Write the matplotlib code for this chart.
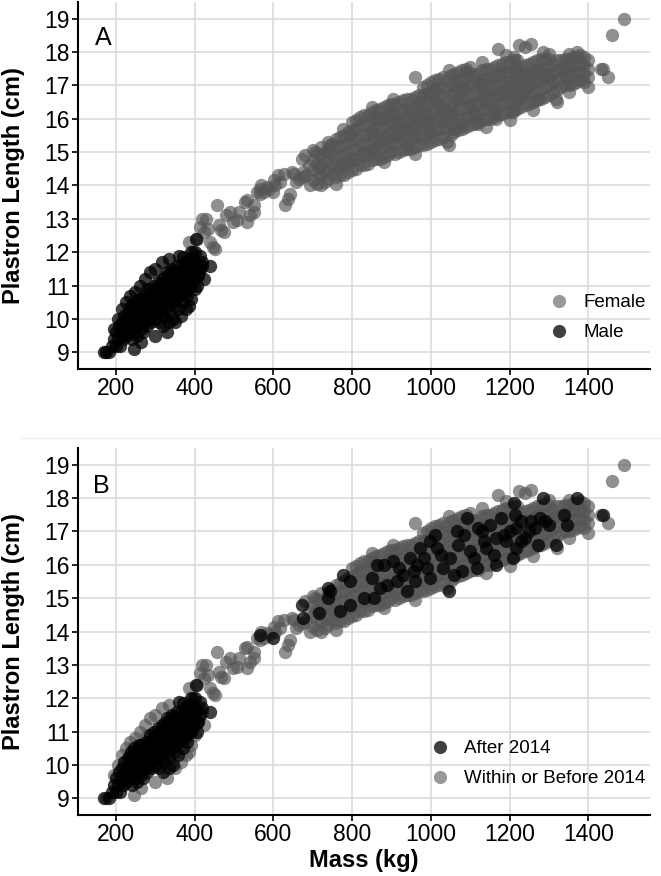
import matplotlib.pyplot as plt
from matplotlib.lines import Line2D

plt.rcParams['font.family'] = ['Liberation Sans', 'DejaVu Sans']

# ---- data: (mass kg, plastron length cm) ----
# females 380-700 kg, measured within or before 2014
female_mid = [(385, 12.3), (395, 12.0), (405, 12.4), (415, 12.75), (420, 13.0), (425, 12.6),
              (430, 13.0), (435, 12.7), (440, 12.3), (448, 12.15), (458, 13.4), (452, 12.1),
              (462, 12.8), (466, 12.65), (475, 12.6), (480, 13.1), (491, 13.2), (498, 12.9),
              (508, 12.95), (512, 13.2), (528, 13.5), (534, 12.9), (534, 13.55), (542, 13.1),
              (550, 13.2), (552, 13.4), (558, 13.8), (567, 13.75), (570, 14.0), (576, 13.8),
              (584, 13.95), (590, 13.9), (601, 14.15), (604, 14.0), (612, 14.3), (618, 14.1),
              (626, 14.35), (630, 13.4), (638, 13.6), (643, 13.75), (648, 14.4), (652, 14.35),
              (658, 14.1), (664, 14.2), (676, 14.25), (680, 14.9), (684, 14.3), (690, 14.6),
              (694, 14.0), (705, 15.0)]

# dense female band 700-1400 kg (within or before 2014), one column per mass value
band_mass = [700, 720, 740, 760, 780, 800, 820, 840, 860, 880, 900, 920, 940, 960, 980,
             1000, 1020, 1040, 1060, 1080, 1100, 1120, 1140, 1160, 1180, 1200, 1220, 1240,
             1260, 1280, 1300, 1320, 1340, 1360, 1380, 1400]
band_lengths = [
    [14.15, 14.45, 14.75, 15.05],
    [14.0, 14.3, 14.6, 14.9, 15.15],
    [14.2, 14.5, 14.8, 15.1],
    [14.25, 14.55, 14.85, 15.15, 15.4],
    [14.3, 14.6, 14.9, 15.2, 15.5],
    [14.45, 14.75, 15.05, 15.35, 15.65, 15.9],
    [14.6, 14.9, 15.2, 15.5, 15.8, 16.05],
    [14.65, 14.95, 15.25, 15.55, 15.85, 16.1],
    [14.8, 15.1, 15.4, 15.7, 16.0, 16.25],
    [14.85, 15.15, 15.45, 15.75, 16.05, 16.35],
    [15.0, 15.3, 15.6, 15.9, 16.2, 16.45],
    [15.0, 15.3, 15.6, 15.9, 16.2, 16.5],
    [15.1, 15.4, 15.7, 16.0, 16.3, 16.6],
    [15.15, 15.45, 15.75, 16.05, 16.35, 16.65, 17.25],
    [15.2, 15.5, 15.8, 16.1, 16.4, 16.7, 16.95],
    [15.3, 15.6, 15.9, 16.2, 16.5, 16.8, 17.1],
    [15.4, 15.7, 16.0, 16.3, 16.6, 16.9, 17.2],
    [15.3, 15.65, 15.95, 16.25, 16.55, 16.85, 17.15],
    [15.6, 15.9, 16.2, 16.5, 16.8, 17.1, 17.35],
    [15.7, 16.0, 16.3, 16.6, 16.9, 17.2, 17.45],
    [15.8, 16.1, 16.4, 16.7, 17.0, 17.3, 17.55],
    [15.85, 16.15, 16.45, 16.75, 17.05, 17.35],
    [16.0, 16.3, 16.6, 16.9, 17.2, 17.5],
    [16.05, 16.35, 16.65, 16.95, 17.25, 17.55],
    [16.15, 16.45, 16.75, 17.05, 17.35, 17.65],
    [16.2, 16.5, 16.8, 17.1, 17.4, 17.7],
    [16.3, 16.6, 16.9, 17.2, 17.5, 17.75],
    [16.4, 16.7, 17.0, 17.3, 17.6],
    [16.5, 16.8, 17.1, 17.4, 17.7],
    [16.6, 16.9, 17.2, 17.5, 17.8],
    [16.7, 17.0, 17.3, 17.55, 17.8],
    [16.5, 16.85, 17.15, 17.45, 17.75],
    [17.0, 17.3, 17.55, 17.8],
    [17.05, 17.35, 17.6, 17.85],
    [17.15, 17.4, 17.65, 17.9],
    [16.95, 17.25, 17.5, 17.75],
]

# in-between columns of the same band
band_mass_2 = [710, 730, 750, 770, 790, 810, 830, 850, 870, 890, 910, 930, 950, 970, 990,
               1010, 1030, 1050, 1070, 1090, 1110, 1130, 1150, 1170, 1190, 1210, 1230, 1250,
               1270, 1290, 1310, 1330, 1350, 1370, 1390]
band_lengths_2 = [
    [14.05, 14.35, 14.65, 14.95],
    [14.1, 14.4, 14.7, 15.0],
    [14.35, 14.65, 14.95, 15.25],
    [14.3, 14.6, 14.9, 15.2, 15.45],
    [14.4, 14.7, 15.0, 15.3, 15.6],
    [14.5, 14.8, 15.1, 15.4, 15.7, 15.95],
    [14.6, 14.9, 15.2, 15.5, 15.8, 16.1],
    [14.75, 15.05, 15.35, 15.65, 15.95, 16.2],
    [14.8, 15.1, 15.4, 15.7, 16.0, 16.3],
    [14.9, 15.2, 15.5, 15.8, 16.1, 16.4],
    [14.95, 15.25, 15.55, 15.85, 16.15, 16.45],
    [15.05, 15.35, 15.65, 15.95, 16.25, 16.55],
    [15.1, 15.4, 15.7, 16.0, 16.3, 16.6],
    [15.2, 15.5, 15.8, 16.1, 16.4, 16.7],
    [15.25, 15.55, 15.85, 16.15, 16.45, 16.75, 17.0],
    [15.35, 15.65, 15.95, 16.25, 16.55, 16.85, 17.15],
    [15.45, 15.75, 16.05, 16.35, 16.65, 16.95, 17.25],
    [15.5, 15.8, 16.1, 16.4, 16.7, 17.0, 17.3],
    [15.65, 15.95, 16.25, 16.55, 16.85, 17.15, 17.4],
    [15.75, 16.05, 16.35, 16.65, 16.95, 17.25, 17.5],
    [15.85, 16.15, 16.45, 16.75, 17.05, 17.35],
    [15.95, 16.25, 16.55, 16.85, 17.15, 17.45],
    [16.0, 16.3, 16.6, 16.9, 17.2, 17.5],
    [16.1, 16.4, 16.7, 17.0, 17.3, 17.6],
    [16.2, 16.5, 16.8, 17.1, 17.4, 17.7],
    [16.25, 16.55, 16.85, 17.15, 17.45, 17.75],
    [16.35, 16.65, 16.95, 17.25, 17.55],
    [16.45, 16.75, 17.05, 17.35, 17.65],
    [16.55, 16.85, 17.15, 17.45, 17.75],
    [16.65, 16.95, 17.25, 17.5, 17.8],
    [16.8, 17.1, 17.4, 17.65],
    [16.95, 17.25, 17.5, 17.75],
    [17.0, 17.3, 17.55, 17.8],
    [17.1, 17.4, 17.65, 17.85],
    [17.1, 17.35, 17.6, 17.85],
]

# band edge stragglers and large-female outliers (within or before 2014)
female_tail = [(1170, 18.1), (1225, 18.2), (1240, 18.15), (1255, 18.25),
               (1432, 17.5), (1450, 17.25), (1460, 18.5), (1490, 19.0),
               (850, 16.35), (905, 16.6), (1045, 17.45), (1130, 17.7), (1190, 17.9),
               (1300, 17.95), (1350, 17.95), (760, 14.05), (880, 14.7), (960, 14.95),
               (1140, 15.75), (1200, 15.95), (1260, 16.25), (1350, 16.8)]

# females measured after 2014
female_after = [(1284, 18.0), (1372, 18.0), (1211, 17.86), (1091, 17.4), (1178, 17.4),
                (1213, 17.5), (1255, 17.3), (1276, 17.4), (1339, 17.5), (1436, 17.5),
                (1011, 16.9), (1066, 17.0), (1129, 17.0), (1166, 16.8), (1217, 17.1),
                (1250, 17.0), (1271, 16.6), (1318, 16.6), (1217, 16.5), (1208, 16.2),
                (1166, 16.0), (1116, 15.9), (1099, 16.4), (1049, 16.2), (1015, 16.5),
                (982, 16.2), (948, 16.2), (957, 15.8), (940, 15.2), (999, 15.6),
                (1045, 15.2), (915, 15.5), (881, 16.0), (864, 16.0), (889, 15.4),
                (856, 15.0), (831, 15.0), (795, 14.8), (778, 15.7), (795, 15.5),
                (770, 14.6), (745, 15.2), (999, 16.7), (973, 16.5), (567, 13.9),
                (600, 13.8), (673, 14.8), (675, 14.4), (715, 14.55), (740, 15.3),
                (740, 15.0), (920, 15.9), (960, 15.5), (1030, 15.9), (1070, 16.6),
                (1140, 16.5), (1190, 16.7), (1230, 17.3), (1300, 17.2), (1150, 17.2),
                (1080, 15.8), (850, 15.6), (870, 15.3), (905, 16.1), (930, 15.7),
                (965, 16.0), (990, 15.9), (1025, 16.3), (1060, 15.7), (1110, 16.2),
                (1135, 16.7), (1160, 16.3), (1185, 16.9), (1200, 17.0), (1240, 16.8),
                (1265, 17.1), (1290, 17.3), (1345, 17.2), (1230, 16.7), (1120, 17.1),
                (1085, 16.9)]

# males measured after 2014
male_after = [(170, 9.0), (183, 9.0), (190, 9.2), (195, 9.4), (200, 9.2), (200, 9.6),
              (205, 9.4), (208, 9.8), (210, 9.2), (212, 9.6), (215, 9.9), (218, 9.4),
              (220, 9.7), (222, 10.1), (225, 9.5), (228, 9.9), (230, 10.2), (233, 9.6),
              (236, 10.0), (238, 10.4), (240, 9.4), (242, 9.8), (244, 10.1), (246, 10.5),
              (248, 9.6), (250, 10.0), (252, 10.3), (255, 9.5), (256, 9.9), (258, 10.2),
              (260, 10.6), (263, 9.7), (265, 10.1), (267, 10.4), (270, 9.6), (272, 10.0),
              (274, 10.3), (276, 10.7), (280, 9.8), (282, 10.2), (284, 10.5), (286, 10.9),
              (290, 9.9), (292, 10.3), (294, 10.6), (296, 11.0), (300, 10.0), (302, 10.4),
              (304, 10.7), (306, 11.1), (310, 9.9), (312, 10.3), (314, 10.6), (316, 10.9),
              (318, 11.2), (322, 10.1), (324, 10.5), (326, 10.8), (328, 11.1), (330, 11.4),
              (334, 10.2), (336, 10.6), (338, 10.9), (340, 11.2), (342, 11.5), (346, 10.0),
              (348, 10.4), (350, 10.8), (352, 11.1), (354, 11.4), (358, 10.3), (360, 10.7),
              (362, 11.0), (364, 11.3), (366, 11.6), (370, 10.5), (372, 10.9), (374, 11.2),
              (376, 11.5), (380, 10.7), (382, 11.1), (384, 11.4), (386, 11.8), (392, 11.0),
              (394, 11.3), (398, 11.6), (403, 12.4), (360, 11.9), (390, 12.0), (415, 11.9),
              (440, 11.6), (410, 11.3), (405, 11.0), (300, 10.8), (320, 9.8), (335, 9.9),
              (215, 9.55), (225, 9.75), (235, 9.85), (235, 10.25), (245, 9.95), (245, 10.3),
              (255, 10.05), (255, 10.45), (265, 9.85), (265, 10.25), (265, 10.6), (275, 9.9),
              (275, 10.2), (275, 10.55), (285, 10.0), (285, 10.35), (285, 10.7), (295, 10.15),
              (295, 10.45), (295, 10.8), (305, 10.2), (305, 10.55), (305, 10.9), (315, 10.15),
              (315, 10.45), (315, 10.75), (315, 11.05), (325, 10.3), (325, 10.65), (325, 10.95),
              (325, 11.25), (335, 10.45), (335, 10.75), (335, 11.05), (335, 11.35), (345, 10.55),
              (345, 10.85), (345, 11.15), (345, 11.45), (355, 10.6), (355, 10.95), (355, 11.25),
              (355, 11.6), (365, 10.85), (365, 11.15), (365, 11.45), (375, 10.8), (375, 11.05),
              (375, 11.35), (375, 11.7), (385, 10.95), (385, 11.25), (385, 11.6), (395, 11.15),
              (395, 11.45), (395, 11.8), (405, 11.3), (405, 11.65), (415, 11.5), (420, 11.7),
              (400, 12.0), (370, 11.85)]

# males measured within or before 2014
male_before = [(175, 9.0), (195, 9.7), (205, 10.0), (215, 10.3), (225, 10.5), (235, 10.7),
               (250, 10.8), (262, 11.0), (275, 11.2), (288, 11.4), (300, 11.5), (318, 11.7),
               (335, 11.8), (350, 9.9), (365, 10.1), (378, 10.3), (392, 10.6), (402, 10.9),
               (412, 11.4), (420, 11.6), (425, 11.2), (240, 10.4), (280, 10.9), (330, 9.6),
               (300, 9.5), (265, 9.3), (245, 9.1), (385, 10.4)]

x_ticks = [200, 400, 600, 800, 1000, 1200, 1400]
y_ticks = [9, 10, 11, 12, 13, 14, 15, 16, 17, 18, 19]

band = [(m, l) for m, ls in zip(band_mass, band_lengths) for l in ls]
band += [(m, l) for m, ls in zip(band_mass_2, band_lengths_2) for l in ls]
female_all = female_mid + band + female_tail + female_after
male_all = male_after + male_before
before_all = female_mid + band + female_tail + male_before
after_all = female_after + male_after

GRAY = '#555555'
DARK = '#000000'
PT = 92


def style(ax, show_xlabel):
    ax.set_xlim(104, 1556)
    ax.set_ylim(8.5, 19.5)
    ax.set_xticks(x_ticks)
    ax.set_yticks(y_ticks)
    ax.grid(color='#d9d9d9', linewidth=1.1)
    ax.set_axisbelow(True)
    for s in ['top', 'right']:
        ax.spines[s].set_visible(False)
    for s in ['left', 'bottom']:
        ax.spines[s].set_linewidth(1.5)
    ax.tick_params(labelsize=16.5, length=4, width=1.2, pad=2)
    ax.set_ylabel('Plastron Length (cm)', fontsize=17, fontweight='bold')
    ax.yaxis.set_label_coords(-0.093, 0.5)
    if show_xlabel:
        ax.set_xlabel('Mass (kg)', fontsize=17, fontweight='bold')
        ax.xaxis.set_label_coords(0.5, -0.093)


def handle(color, alpha):
    return Line2D([], [], linestyle='none', marker='o', markersize=9.5,
                  markerfacecolor=color, markeredgecolor='none', alpha=alpha)


leg_kw = dict(loc='lower right', bbox_to_anchor=(1.022, 0.03), frameon=False,
              fontsize=13.5, handletextpad=0.8, labelspacing=0.68, handlelength=1.0)

fig = plt.figure(figsize=(6.61, 8.76), dpi=100)
ax_a = fig.add_axes([0.118, 0.5788, 0.865, 0.419])
ax_b = fig.add_axes([0.118, 0.0696, 0.865, 0.419])

# panel A: by sex
ax_a.scatter([p[0] for p in female_all], [p[1] for p in female_all], s=PT,
             color=GRAY, alpha=0.65, linewidths=0)
ax_a.scatter([p[0] for p in male_all], [p[1] for p in male_all], s=PT,
             color=DARK, alpha=0.75, linewidths=0)
style(ax_a, False)
ax_a.text(148, 18.43, 'A', fontsize=18, va='center', ha='left')
ax_a.legend([handle(GRAY, 0.6), handle(DARK, 0.75)], ['Female', 'Male'], **leg_kw)

# panel B: by measurement period
ax_b.scatter([p[0] for p in before_all], [p[1] for p in before_all], s=PT,
             color=GRAY, alpha=0.65, linewidths=0)
ax_b.scatter([p[0] for p in after_all], [p[1] for p in after_all], s=PT,
             color=DARK, alpha=0.75, linewidths=0)
style(ax_b, True)
ax_b.text(142, 18.37, 'B', fontsize=18, va='center', ha='left')
ax_b.legend([handle(DARK, 0.75), handle(GRAY, 0.6)],
            ['After 2014', 'Within or Before 2014'], **leg_kw)

# faint separator between panels
fig.add_artist(Line2D([0.03, 1.0], [0.5, 0.5], color='#eeeeee', linewidth=1.0))

fig.savefig('out.png', dpi=100)
